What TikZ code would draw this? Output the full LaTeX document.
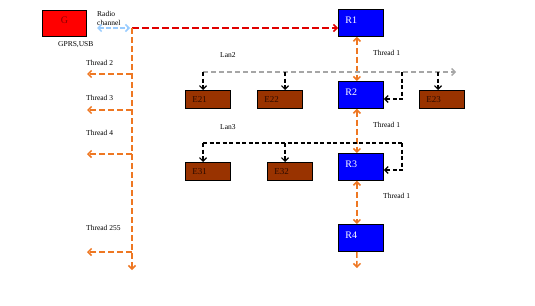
\documentclass[tikz,border=0pt]{standalone}
\usepackage{fontspec}
\setmainfont{Liberation Serif}
\usetikzlibrary{arrows.meta}
\definecolor{gred}{HTML}{FF0000}
\definecolor{gtext}{HTML}{8B0000}
\definecolor{rblue}{HTML}{0000FF}
\definecolor{ebrown}{HTML}{993300}
\definecolor{etext}{HTML}{2A0A00}
\definecolor{orng}{HTML}{EE7722}
\definecolor{dred}{HTML}{E00000}
\definecolor{lblue}{HTML}{99CCFF}
\definecolor{lgray}{HTML}{A6A6A6}
\begin{document}
\begin{tikzpicture}[x=1pt,y=-1pt,
  >={Straight Barb[length=3.5pt,width=7pt]},
  box/.style={draw=black,line width=0.8pt,anchor=north west,minimum width=45pt,
    inner xsep=7pt,inner ysep=0pt,text width=31pt,align=left},
  rbox/.style={box,fill=rblue,text=white,minimum height=27pt,
    font=\fontsize{10}{11}\selectfont,text height=6.6pt,text depth=6pt},
  ebox/.style={box,fill=ebrown,text=etext,minimum height=18pt,
    font=\fontsize{9}{10}\selectfont},
  lbl/.style={font=\fontsize{7.5}{8.5}\selectfont,anchor=west,inner sep=0pt},
  odash/.style={draw=orng,line width=1.5pt,dash pattern=on 6pt off 3pt},
  bdash/.style={draw=black,line width=1.2pt,dash pattern=on 4pt off 2.5pt},
  gdash/.style={draw=lgray,line width=1.3pt,dash pattern=on 5pt off 3pt},
]
\useasboundingbox (0,0) rectangle (535,305);

% nodes
\node[draw=black,line width=0.8pt,fill=gred,text=gtext,anchor=north west,
  minimum width=44pt,minimum height=26pt,inner sep=0pt,
  font=\fontsize{10}{11}\selectfont,text height=6.6pt,text depth=6pt] (G) at (42,10) {G};
\node[lbl] (gprs) at (58,45) {GPRS,USB};
\node[lbl,align=left,anchor=north west,font=\fontsize{7.5}{9}\selectfont] (radio) at (97,11) {Radio\\channel};

\node[rbox] (R1) at (338,9) {R1};
\node[rbox] (R2) at (338,81) {R2};
\node[rbox] (R3) at (338,153) {R3};
\node[rbox] (R4) at (338,224) {R4};

\node[ebox] (E21) at (185,90) {E21};
\node[ebox] (E22) at (257,90) {E22};
\node[ebox] (E23) at (419,90) {E23};
\node[ebox] (E31) at (185,162) {E31};
\node[ebox] (E32) at (267,162) {E32};

\node[lbl] (lan2) at (220,55) {Lan2};
\node[lbl] (lan3) at (220,127) {Lan3};
\node[lbl] (th1a) at (373,53) {Thread 1};
\node[lbl] (th1b) at (373,125) {Thread 1};
\node[lbl] (th1c) at (383,196) {Thread 1};

\node[lbl] (th2) at (86,63) {Thread 2};
\node[lbl] (th3) at (86,98) {Thread 3};
\node[lbl] (th4) at (86,133) {Thread 4};
\node[lbl] (th255) at (86,228) {Thread 255};

% coordinates
\coordinate (rc) at (97,28);
\coordinate (rce) at (130,28);
\coordinate (hub) at (132,28);
\coordinate (vend) at (132,270);
\coordinate (b2) at (132,74);  \coordinate (e2) at (87,74);
\coordinate (b3) at (132,110); \coordinate (e3) at (87,110);
\coordinate (b4) at (132,154); \coordinate (e4) at (87,154);
\coordinate (b5) at (132,252); \coordinate (e5) at (87,252);

\coordinate (l2s) at (203,72);
\coordinate (l2e) at (456,72);
\coordinate (l2b) at (285,72);
\coordinate (l2c) at (438,72);
\coordinate (l2r) at (402,72);
\coordinate (l3s) at (203,143);
\coordinate (l3b) at (285,143);
\coordinate (l3r) at (402,143);
\coordinate (r4e) at (357,268);

% radio and uplink
\draw[draw=lblue,line width=1.5pt,dash pattern=on 5pt off 2pt,<->] (rc) -- (rce);
\draw[draw=dred,line width=1.5pt,dash pattern=on 7pt off 3pt,->] (hub) -- (hub -| R1.west);

% thread bus
\draw[odash,->] (hub) -- (vend);
\draw[odash,->] (b2) -- (e2);
\draw[odash,->] (b3) -- (e3);
\draw[odash,->] (b4) -- (e4);
\draw[odash,->] (b5) -- (e5);

% router chain
\draw[odash,<->] ([xshift=-4pt]R1.south) -- ([xshift=-4pt]R2.north);
\draw[odash,<->] ([xshift=-4pt]R2.south) -- ([xshift=-4pt]R3.north);
\draw[odash,<->] ([xshift=-4pt]R3.south) -- ([xshift=-4pt]R4.north);
\draw[odash,->] ([xshift=-4pt]R4.south) -- (r4e);

% Lan2
\draw[gdash,->] (l2s) -- (l2e);
\draw[bdash,->] (l2s) -- (l2s |- E21.north);
\draw[bdash,->] (l2b) -- (l2b |- E22.north);
\draw[bdash,->] (l2c) -- (l2c |- E23.north);
\draw[bdash,->] (l2r) -- (402,99) -- (R2.east |- 0,99);

% Lan3
\draw[bdash] (l3s) -- (l3r);
\draw[bdash,->] (l3s) -- (l3s |- E31.north);
\draw[bdash,->] (l3b) -- (l3b |- E32.north);
\draw[bdash,->] (l3r) -- (402,170) -- (R3.east |- 0,170);
\end{tikzpicture}
\end{document}
